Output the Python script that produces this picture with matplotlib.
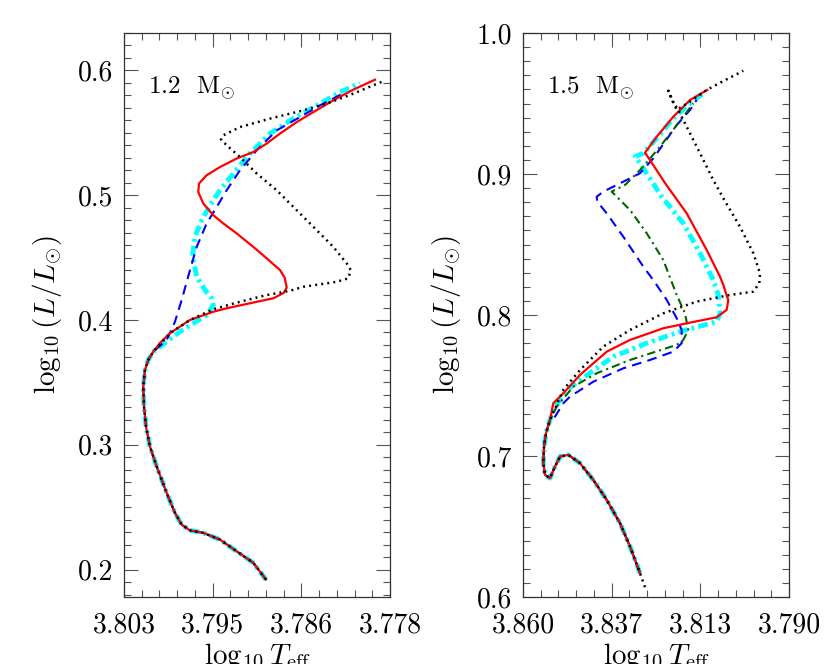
import numpy as np
import matplotlib
matplotlib.use('Agg')
import matplotlib.pyplot as plt
from matplotlib.ticker import FixedLocator, MultipleLocator, FormatStrFormatter

plt.rcParams['font.family'] = ['cmr10', 'DejaVu Serif']
plt.rcParams['mathtext.fontset'] = 'cm'
plt.rcParams['axes.formatter.use_mathtext'] = True
plt.rcParams['lines.scale_dashes'] = False

# ---- 1.2 Msun tracks (log Teff, log L) ----
common12_T = [3.78966, 3.79085, 3.79241, 3.79398, 3.79555, 3.79680, 3.79758, 3.79821, 3.79899,
              3.79993, 3.80056, 3.80093, 3.80112, 3.80119, 3.80103, 3.80072, 3.80025]
common12_L = [0.1920, 0.2054, 0.2146, 0.2240, 0.2294, 0.2314, 0.2360, 0.2454, 0.2614,
              0.2826, 0.2986, 0.3146, 0.3306, 0.3466, 0.3600, 0.3680, 0.3746]

red12_T = [3.79962, 3.79868, 3.79680, 3.79461, 3.79335, 3.79116, 3.78897, 3.78800, 3.78771, 3.78790, 3.78834,
           3.78959, 3.79085, 3.79241, 3.79367, 3.79461, 3.79555, 3.79602, 3.79595, 3.79523, 3.79398,
           3.79241, 3.79085, 3.78959, 3.78834, 3.78677, 3.78521, 3.78333, 3.78145, 3.77941]
red12_L = [0.3816, 0.3894, 0.4000, 0.4066, 0.4094, 0.4134, 0.4174, 0.4216, 0.4260, 0.4340, 0.4400,
           0.4494, 0.4586, 0.4694, 0.4774, 0.4840, 0.4934, 0.5026, 0.5094, 0.5160, 0.5226,
           0.5294, 0.5346, 0.5414, 0.5494, 0.5586, 0.5666, 0.5760, 0.5846, 0.5926]

black12_T = [3.79868, 3.79680, 3.79461, 3.79210, 3.78959, 3.78740, 3.78615, 3.78301, 3.78192,
             3.78169, 3.78207, 3.78333, 3.78489, 3.78677, 3.78865, 3.79053, 3.79210, 3.79335, 3.79388,
             3.79367, 3.79210, 3.78928, 3.78615, 3.78395, 3.78145, 3.77863]
black12_L = [0.3894, 0.4000, 0.4086, 0.4146, 0.4200, 0.4234, 0.4266, 0.4306, 0.4334,
             0.4400, 0.4454, 0.4586, 0.4720, 0.4880, 0.5040, 0.5174, 0.5306, 0.5400, 0.5446,
             0.5480, 0.5546, 0.5614, 0.5680, 0.5734, 0.5814, 0.5914]

blue12_T = [3.79899, 3.79821, 3.79758, 3.79680, 3.79617, 3.79523, 3.79429, 3.79335, 3.79210,
            3.79053, 3.78865, 3.78646, 3.78458, 3.78223]
blue12_L = [0.3840, 0.3986, 0.4160, 0.4400, 0.4586, 0.4774, 0.4906, 0.5040, 0.5200,
            0.5360, 0.5520, 0.5626, 0.5720, 0.5824]

cyan12_T = [3.79962, 3.79774, 3.79523, 3.79461, 3.79476, 3.79539, 3.79617, 3.79649, 3.79654, 3.79633,
            3.79570, 3.79492, 3.79398, 3.79273, 3.79116, 3.78928, 3.78709, 3.78458, 3.78270, 3.78082]
cyan12_L = [0.3786, 0.3906, 0.4040, 0.4120, 0.4174, 0.4240, 0.4346, 0.4480, 0.4534, 0.4666,
            0.4800, 0.4920, 0.5040, 0.5174, 0.5334, 0.5494, 0.5614, 0.5734, 0.5826, 0.5898]

# ---- 1.5 Msun tracks ----
common15_T = [3.82921, 3.83184, 3.83447, 3.83797, 3.84150, 3.84500, 3.84808, 3.85026, 3.85158,
              3.85290, 3.85421, 3.85466, 3.85447, 3.85395, 3.85290]
common15_L = [0.6169, 0.6358, 0.6523, 0.6689, 0.6830, 0.6949, 0.7008, 0.6996, 0.6925,
              0.6843, 0.6866, 0.6949, 0.7067, 0.7162, 0.7256]

black15_start_T = [3.8279]
black15_start_L = [0.6070]
black15_T = [3.84939, 3.84500, 3.83887, 3.83184, 3.82308, 3.81429, 3.80553, 3.79939,
             3.79782, 3.79763, 3.79939, 3.80289, 3.80729, 3.80992, 3.81342, 3.81692, 3.81913,
             3.82087, 3.82176, 3.81955, 3.81605, 3.81166, 3.80816, 3.80203]
black15_L = [0.7469, 0.7610, 0.7776, 0.7894, 0.8012, 0.8095, 0.8142, 0.8166,
             0.8225, 0.8296, 0.8438, 0.8626, 0.8828, 0.8957, 0.9147, 0.9335, 0.9454,
             0.9525, 0.9591, 0.9454, 0.9513, 0.9596, 0.9647, 0.9732]

red15_T = [3.85203, 3.84939, 3.84500, 3.83797, 3.83711, 3.83184, 3.82308, 3.81605, 3.80903, 3.80640,
           3.80597, 3.80630, 3.80729, 3.80816, 3.81166, 3.81692, 3.82263, 3.82658, 3.82790,
           3.82482, 3.82045, 3.81605, 3.81150]
red15_L = [0.7374, 0.7445, 0.7575, 0.7740, 0.7752, 0.7823, 0.7906, 0.7946, 0.7984, 0.8036,
           0.8107, 0.8130, 0.8213, 0.8272, 0.8461, 0.8721, 0.8936, 0.9099, 0.9151,
           0.9264, 0.9406, 0.9525, 0.9596]

cyan15_T = [3.85203, 3.84850, 3.84500, 3.83624, 3.82745, 3.81868, 3.80903, 3.80816, 3.80861, 3.80992,
            3.81342, 3.81782, 3.82350, 3.82921, 3.83053, 3.82834, 3.82482, 3.82045, 3.81560, 3.81210]
cyan15_L = [0.7327, 0.7469, 0.7539, 0.7705, 0.7800, 0.7882, 0.7953, 0.8012, 0.8142, 0.8248,
            0.8438, 0.8650, 0.8839, 0.9076, 0.9123, 0.9147, 0.9253, 0.9395, 0.9513, 0.9581]

green15_T = [3.85113, 3.84676, 3.84060, 3.83184, 3.81955, 3.81782, 3.81650, 3.81737, 3.81955, 3.82308,
             3.82745, 3.83184, 3.83534, 3.83666, 3.83316, 3.82876, 3.82395, 3.81782, 3.81518]
green15_L = [0.7350, 0.7492, 0.7587, 0.7681, 0.7788, 0.7823, 0.7894, 0.8012, 0.8142, 0.8390,
             0.8580, 0.8745, 0.8839, 0.8875, 0.8922, 0.9040, 0.9194, 0.9406, 0.9501]

blue15_T = [3.85158, 3.84939, 3.84763, 3.84150, 3.83360, 3.82658, 3.82045, 3.81824, 3.81824, 3.81955,
            3.82218, 3.82571, 3.82834, 3.83360, 3.83797, 3.84045, 3.84060, 3.83887, 3.83447,
            3.82921, 3.82571, 3.81955, 3.81605, 3.81429]
blue15_L = [0.7279, 0.7374, 0.7421, 0.7527, 0.7622, 0.7681, 0.7740, 0.7800, 0.7894, 0.7977,
            0.8107, 0.8248, 0.8343, 0.8555, 0.8721, 0.8804, 0.8839, 0.8875, 0.8934,
            0.9005, 0.9111, 0.9347, 0.9454, 0.9525]

fig = plt.figure(figsize=(8.3, 6.64), dpi=100)
ax1 = fig.add_axes([124 / 830, 1 - 597 / 664, 266 / 830, 564 / 664])
ax2 = fig.add_axes([523 / 830, 1 - 597 / 664, 266 / 830, 564 / 664])


def track(ax, cT, cL, T, L, **kw):
    # branch joined to the shared main-sequence part
    ax.plot(cT + T, cL + L, **kw)


styles = {
    'cyan': dict(color='cyan', lw=3.5, ls=(0, (7, 3, 2, 3))),
    'blue': dict(color='blue', lw=1.5, ls=(0, (7, 4.5))),
    'green': dict(color='darkgreen', lw=1.5, ls=(0, (6, 3, 1.5, 3))),
    'red': dict(color='red', lw=1.6, ls='-'),
    'black': dict(color='black', lw=1.8, ls=(0, (1.4, 3.0))),
}

# left panel
track(ax1, common12_T, common12_L, cyan12_T, cyan12_L, **styles['cyan'])
track(ax1, common12_T, common12_L, blue12_T, blue12_L, **styles['blue'])
track(ax1, common12_T, common12_L, red12_T, red12_L, **styles['red'])
track(ax1, common12_T, common12_L, black12_T, black12_L, **styles['black'])

# right panel
track(ax2, common15_T, common15_L, cyan15_T, cyan15_L, **styles['cyan'])
track(ax2, common15_T, common15_L, blue15_T, blue15_L, **styles['blue'])
track(ax2, common15_T, common15_L, green15_T, green15_L, **styles['green'])
track(ax2, common15_T, common15_L, red15_T, red15_L, **styles['red'])
track(ax2, black15_start_T + common15_T, black15_start_L + common15_L, black15_T, black15_L,
      **styles['black'])

ax1.set_xlim(3.803, 3.778)
ax1.set_ylim(0.178, 0.630)
ax2.set_xlim(3.860, 3.790)
ax2.set_ylim(0.6, 1.0)

for ax, (x0, x1), mass in [(ax1, (3.803, 3.778), '1.2'), (ax2, (3.860, 3.790), '1.5')]:
    ax.xaxis.set_major_locator(FixedLocator(np.linspace(x0, x1, 4)))
    ax.xaxis.set_minor_locator(FixedLocator(np.linspace(x0, x1, 16)))
    ax.xaxis.set_major_formatter(FormatStrFormatter('%.3f'))
    ax.yaxis.set_major_locator(MultipleLocator(0.1))
    ax.yaxis.set_minor_locator(MultipleLocator(0.01))
    ax.yaxis.set_major_formatter(FormatStrFormatter('%.1f'))
    ax.tick_params(which='both', direction='in', top=True, right=True, labelsize=20, color='#555555')
    ax.tick_params(which='major', length=10, width=0.8)
    ax.tick_params(which='minor', length=5, width=0.8)
    ax.tick_params(axis='x', pad=11)
    ax.tick_params(axis='y', pad=8)
    for s in ax.spines.values():
        s.set_linewidth(0.9)
        s.set_color('#333333')
    ax.set_xlabel(r'$\log_{10}T_{\rm eff}$', fontsize=21, labelpad=2)
    ax.set_ylabel(r'$\log_{10}(L/L_{\odot})$', fontsize=21, labelpad=10)
    ax.text(0.09, 0.9025, mass + r'  M$_{\odot}$', transform=ax.transAxes,
            fontsize=18, va='center', ha='left')

fig.savefig('out.png', dpi=100)
